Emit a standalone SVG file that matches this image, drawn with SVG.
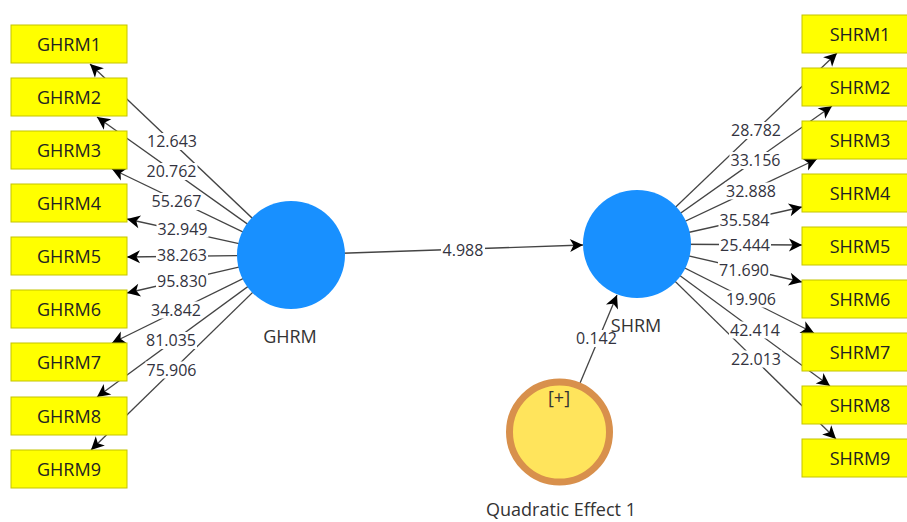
<svg xmlns="http://www.w3.org/2000/svg" width="907" height="522" viewBox="0 0 907 522">
  <style>
    .ind rect { fill: #FFFF00; stroke: #C4C400; stroke-width: 1; }
    .ind text { font-family: "Open Sans", "Noto Sans", sans-serif; font-size: 18px; fill: #222; text-anchor: middle; }
    .lv { fill: #1890FF; }
    .lvname { font-family: "Open Sans", "Noto Sans", sans-serif; font-size: 18px; fill: #333; text-anchor: middle; }
    .edge { stroke: #444; stroke-width: 1.3; fill: none; marker-end: url(#arrow); }
    .lbl rect { fill: #FFFFFF; }
    .lbl text { font-family: "Open Sans", "Noto Sans", sans-serif; font-size: 16px; fill: #333340; text-anchor: middle; }
  </style>
  <defs>
    <marker id="arrow" markerUnits="userSpaceOnUse" markerWidth="16" markerHeight="16" viewBox="-14 -8 16 16" refX="0" refY="0" orient="auto">
      <path d="M0,0 L-13,-6.5 L-9.5,0 L-13,6.5 Z" fill="#000"/>
    </marker>
  </defs>

  <rect width="907" height="522" fill="#FFFFFF"/>

  <!-- connectors -->
  <g id="connectors">
    <!-- outer loadings GHRM -->
    <line class="edge" x1="291" y1="255" x2="90" y2="64"/>
    <line class="edge" x1="291" y1="255" x2="97" y2="117"/>
    <line class="edge" x1="291" y1="255" x2="112" y2="169"/>
    <line class="edge" x1="291" y1="255" x2="127" y2="219"/>
    <line class="edge" x1="291" y1="255" x2="127" y2="257"/>
    <line class="edge" x1="291" y1="255" x2="127" y2="293"/>
    <line class="edge" x1="291" y1="255" x2="112" y2="343"/>
    <line class="edge" x1="291" y1="255" x2="97" y2="397"/>
    <line class="edge" x1="291" y1="255" x2="91" y2="450"/>
    <!-- outer loadings SHRM -->
    <line class="edge" x1="637" y1="244" x2="837" y2="53"/>
    <line class="edge" x1="637" y1="244" x2="832" y2="106"/>
    <line class="edge" x1="637" y1="244" x2="817" y2="159"/>
    <line class="edge" x1="637" y1="244" x2="802" y2="207"/>
    <line class="edge" x1="637" y1="244" x2="802" y2="245"/>
    <line class="edge" x1="637" y1="244" x2="802" y2="282"/>
    <line class="edge" x1="637" y1="244" x2="814" y2="333"/>
    <line class="edge" x1="637" y1="244" x2="830" y2="386"/>
    <line class="edge" x1="637" y1="244" x2="836" y2="439"/>
    <!-- structural paths -->
    <line class="edge" x1="291" y1="255" x2="583" y2="245"/>
    <line class="edge" x1="559.5" y1="432" x2="617" y2="295"/>

    <!-- path values -->
    <g class="lbl">
      <rect x="146" y="133" width="52" height="17"/><text x="172" y="147">12.643</text>
      <rect x="145.5" y="163" width="52" height="17"/><text x="171.5" y="177">20.762</text>
      <rect x="150.5" y="193" width="52" height="17"/><text x="176.5" y="207">55.267</text>
      <rect x="156.5" y="220.5" width="52" height="17"/><text x="182.5" y="234.5">32.949</text>
      <rect x="156" y="247" width="52" height="17"/><text x="182" y="261">38.263</text>
      <rect x="156" y="273" width="52" height="17"/><text x="182" y="287">95.830</text>
      <rect x="150" y="301.5" width="52" height="17"/><text x="176" y="315.5">34.842</text>
      <rect x="145" y="332" width="52" height="17"/><text x="171" y="346">81.035</text>
      <rect x="145.5" y="361.5" width="52" height="17"/><text x="171.5" y="375.5">75.906</text>

      <rect x="730" y="122" width="52" height="17"/><text x="756" y="136">28.782</text>
      <rect x="729.5" y="152" width="52" height="17"/><text x="755.5" y="166">33.156</text>
      <rect x="725" y="182.5" width="52" height="17"/><text x="751" y="196.5">32.888</text>
      <rect x="718.5" y="211.5" width="52" height="17"/><text x="744.5" y="225.5">35.584</text>
      <rect x="719" y="236.5" width="52" height="17"/><text x="745" y="250.5">25.444</text>
      <rect x="718" y="262" width="52" height="17"/><text x="744" y="276">71.690</text>
      <rect x="725" y="290.5" width="52" height="17"/><text x="751" y="304.5">19.906</text>
      <rect x="729" y="321.5" width="52" height="17"/><text x="755" y="335.5">42.414</text>
      <rect x="730" y="350.5" width="52" height="17"/><text x="756" y="364.5">22.013</text>

      <rect x="441" y="242" width="44" height="17"/><text x="463" y="256">4.988</text>
      <rect x="576" y="330" width="41" height="17"/><text x="596.5" y="344">0.142</text>
    </g>
  </g>

  <!-- latent variables -->
  <g id="GHRM">
    <circle class="lv" cx="291" cy="255" r="54"/>
    <text class="lvname" x="290" y="343">GHRM</text>
  </g>
  <g id="SHRM">
    <circle class="lv" cx="637" cy="244" r="54"/>
    <text class="lvname" x="636" y="332">SHRM</text>
  </g>
  <g id="QuadraticEffect1">
    <circle cx="559.5" cy="432" r="50" fill="#FFE45C" stroke="#D8904C" stroke-width="7"/>
    <text class="lvname" x="559" y="404" fill="#333">[+]</text>
    <text class="lvname" x="561" y="516">Quadratic Effect 1</text>
  </g>

  <!-- GHRM indicators -->
  <g id="GHRM1" class="ind"><rect x="11" y="25" width="116" height="38"/><text x="69" y="50.5">GHRM1</text></g>
  <g id="GHRM2" class="ind"><rect x="11" y="78" width="116" height="38"/><text x="69" y="103.5">GHRM2</text></g>
  <g id="GHRM3" class="ind"><rect x="11" y="131" width="116" height="38"/><text x="69" y="156.5">GHRM3</text></g>
  <g id="GHRM4" class="ind"><rect x="11" y="184" width="116" height="38"/><text x="69" y="209.5">GHRM4</text></g>
  <g id="GHRM5" class="ind"><rect x="11" y="237" width="116" height="38"/><text x="69" y="262.5">GHRM5</text></g>
  <g id="GHRM6" class="ind"><rect x="11" y="290" width="116" height="38"/><text x="69" y="315.5">GHRM6</text></g>
  <g id="GHRM7" class="ind"><rect x="11" y="343" width="116" height="38"/><text x="69" y="368.5">GHRM7</text></g>
  <g id="GHRM8" class="ind"><rect x="11" y="397" width="116" height="38"/><text x="69" y="422.5">GHRM8</text></g>
  <g id="GHRM9" class="ind"><rect x="11" y="450" width="116" height="38"/><text x="69" y="475.5">GHRM9</text></g>

  <!-- SHRM indicators -->
  <g id="SHRM1" class="ind"><rect x="802" y="15" width="116" height="38"/><text x="860" y="40.5">SHRM1</text></g>
  <g id="SHRM2" class="ind"><rect x="802" y="68" width="116" height="38"/><text x="860" y="93.5">SHRM2</text></g>
  <g id="SHRM3" class="ind"><rect x="802" y="121" width="116" height="38"/><text x="860" y="146.5">SHRM3</text></g>
  <g id="SHRM4" class="ind"><rect x="802" y="174" width="116" height="38"/><text x="860" y="199.5">SHRM4</text></g>
  <g id="SHRM5" class="ind"><rect x="802" y="227" width="116" height="38"/><text x="860" y="252.5">SHRM5</text></g>
  <g id="SHRM6" class="ind"><rect x="802" y="280" width="116" height="38"/><text x="860" y="305.5">SHRM6</text></g>
  <g id="SHRM7" class="ind"><rect x="802" y="333" width="116" height="38"/><text x="860" y="358.5">SHRM7</text></g>
  <g id="SHRM8" class="ind"><rect x="802" y="386" width="116" height="38"/><text x="860" y="411.5">SHRM8</text></g>
  <g id="SHRM9" class="ind"><rect x="802" y="439" width="116" height="38"/><text x="860" y="464.5">SHRM9</text></g>
</svg>
